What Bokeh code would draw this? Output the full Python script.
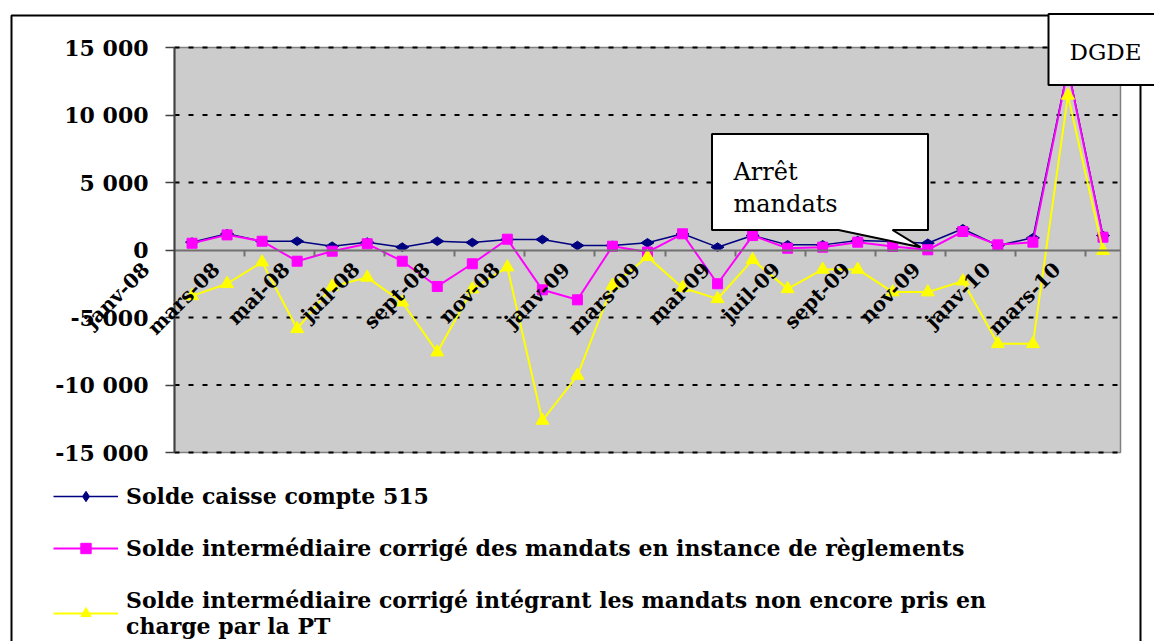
import math
from bokeh.plotting import figure
from bokeh.models import (Range1d, FixedTicker, Legend, LegendItem, LabelSet, Label,
                          BoxAnnotation, PolyAnnotation, ColumnDataSource)
from bokeh.core.properties import value
from bokeh.embed import file_html
from bokeh.resources import INLINE

# ---------------- data ----------------
months = ["janv-08", "févr-08", "mars-08", "avr-08", "mai-08", "juin-08", "juil-08",
          "août-08", "sept-08", "oct-08", "nov-08", "déc-08", "janv-09", "févr-09",
          "mars-09", "avr-09", "mai-09", "juin-09", "juil-09", "août-09", "sept-09",
          "oct-09", "nov-09", "déc-09", "janv-10", "févr-10", "mars-10"]

solde_caisse = [580, 1200, 650, 650, 280, 580, 210, 650, 555, 780, 780, 330, 330, 530,
                1200, 210, 1070, 380, 380, 700, 630, 500, 1570, 330, 900, 13500, 1070]

solde_corrige = [500, 1120, 650, -830, -90, 460, -830, -2700, -1020, 800, -2950, -3690,
                 280, -150, 1200, -2500, 1070, 130, 210, 580, 260, 15, 1370, 380, 580,
                 13400, 950]

solde_integrant = [-3400, -2500, -900, -5840, -2700, -2030, -3870, -7570, -2900, -1270,
                   -12630, -9300, -2630, -500, -2800, -3620, -730, -2880, -1440, -1440,
                   -3120, -3120, -2310, -6950, -6950, 11450, -50]

y_ticks = [-15000, -10000, -5000, 0, 5000, 10000, 15000]

legend_labels = ["Solde caisse compte 515",
                 "Solde intermédiaire corrigé des mandats en instance de règlements",
                 "Solde intermédiaire corrigé intégrant les mandats non encore pris en\ncharge par la PT"]

callout_text = ["Arrêt", "mandats"]
corner_text = "DGDE"

# ---------------- layout (frame = whole canvas) ----------------
W, H = 1154, 641
n = len(months)
cat0, cat1 = -0.5, n - 0.5
val0, val1 = y_ticks[0], y_ticks[-1]
PL, PR, PT, PB = 174, 1120, 47, 452          # plot-area box in pixels
PXU = (PR - PL) / (cat1 - cat0)
PYU = (PB - PT) / (val1 - val0)


def dx(X):  # canvas pixel -> data x
    return cat0 + (X - PL) / PXU


def dy(Y):  # canvas pixel -> data y
    return val1 - (Y - PT) / PYU


p = figure(width=W, height=H, output_backend="svg", toolbar_location=None,
           x_range=Range1d(dx(0), dx(W)), y_range=Range1d(dy(H), dy(0)),
           min_border=0, min_border_left=0, min_border_right=0,
           min_border_top=0, min_border_bottom=0,
           background_fill_color="white", border_fill_color="white",
           outline_line_color=None)
p.xgrid.visible = False
p.ygrid.visible = False

# plot-area background
p.add_layout(BoxAnnotation(left=cat0, right=cat1, bottom=val0, top=val1, level="image",
                           fill_color="#cccccc", fill_alpha=1,
                           line_color="#808080", line_alpha=1, line_width=1.5))

# x axis crossing at zero
p.xaxis.fixed_location = 0
p.xaxis.bounds = (cat0, cat1)
p.xaxis.ticker = FixedTicker(ticks=[], minor_ticks=[i + 0.5 for i in range(1, n - 1, 2)])
p.xaxis.axis_line_color = "#707070"
p.xaxis.axis_line_width = 2
p.xaxis.major_tick_line_color = None
p.xaxis.minor_tick_in = 0
p.xaxis.minor_tick_out = 6
p.xaxis.minor_tick_line_color = "#707070"
p.xaxis.minor_tick_line_width = 2
p.xaxis.major_label_text_font_size = "0px"

# y axis on the left edge of the plot area
p.yaxis.fixed_location = cat0
p.yaxis.bounds = (val0, val1)
p.yaxis.ticker = FixedTicker(ticks=y_ticks)
p.yaxis.minor_tick_line_color = None
p.yaxis.major_tick_in = 0
p.yaxis.major_tick_out = 9
p.yaxis.major_tick_line_color = "#404040"
p.yaxis.major_tick_line_width = 1.5
p.yaxis.axis_line_color = "#404040"
p.yaxis.axis_line_width = 2
p.yaxis.major_label_standoff = 17
p.yaxis.major_label_overrides = {v: f"{v:,}".replace(",", " ") for v in y_ticks}
p.yaxis.major_label_text_font = "DejaVu Serif"
p.yaxis.major_label_text_font_style = "bold"
p.yaxis.major_label_text_font_size = "22px"
p.yaxis.major_label_text_color = "black"

# dashed horizontal grid lines inside the plot area
grid_vals = [v for v in y_ticks if v != 0]
gsrc = ColumnDataSource(dict(x0=[cat0] * len(grid_vals), x1=[cat1] * len(grid_vals),
                             y=grid_vals))
p.segment(x0="x0", y0="y", x1="x1", y1="y", source=gsrc, line_color="black",
          line_width=2, line_dash="5 9")

# ---------------- series ----------------
src = ColumnDataSource(dict(x=list(range(n)), caisse=solde_caisse,
                            corrige=solde_corrige, integrant=solde_integrant))

r1l = p.line("x", "caisse", source=src, line_color="#000080", line_width=1.5)
r1m = p.scatter("x", "caisse", source=src, marker="diamond", angle=math.pi / 2, size=13,
                fill_color="#000080", line_color="#000080")
r2l = p.line("x", "corrige", source=src, line_color="#FF00FF", line_width=2)
r2m = p.scatter("x", "corrige", source=src, marker="square", size=10,
                fill_color="#FF00FF", line_color="#FF00FF")
r3l = p.line("x", "integrant", source=src, line_color="#FFFF00", line_width=2)
r3m = p.scatter("x", "integrant", source=src, marker="triangle", size=13,
                fill_color="#FFFF00", line_color="#FFFF00")

# category labels (every second month), rotated like the original
lab_idx = list(range(0, n, 2))
lab_src = ColumnDataSource(dict(x=lab_idx, y=[0] * len(lab_idx),
                                text=[months[i] for i in lab_idx]))
p.add_layout(LabelSet(x="x", y="y", text="text", source=lab_src, angle=math.pi / 4,
                      x_offset=-46, y_offset=-16, text_align="right", text_baseline="middle",
                      text_font=value("DejaVu Serif"), text_font_style="bold",
                      text_font_size="20px", text_color="black"))

# ---------------- decorations ----------------
p.add_layout(BoxAnnotation(left=dx(11), right=dx(1140), top=dy(15), bottom=dy(780),
                           fill_color=None, fill_alpha=0, line_color="black",
                           line_alpha=1, line_width=2))

cx = [711.5, 927.5, 927.5, 892, 920, 838, 711.5]
cy = [133.5, 133.5, 229.5, 229.5, 246.7, 229.5, 229.5]
p.add_layout(PolyAnnotation(xs=[dx(v) for v in cx], ys=[dy(v) for v in cy],
                            fill_color="white", fill_alpha=1, line_color="black",
                            line_alpha=1, line_width=2))
p.add_layout(Label(x=dx(733), y=dy(171.7), text=callout_text[0], text_font="DejaVu Serif",
                   text_font_size="24px", text_baseline="alphabetic", text_color="black"))
p.add_layout(Label(x=dx(733), y=dy(203.5), text=callout_text[1], text_font="DejaVu Serif",
                   text_font_size="24px", text_baseline="alphabetic", text_color="black"))

p.add_layout(BoxAnnotation(left=dx(1048), right=dx(1180), top=dy(13.5), bottom=dy(84.5),
                           fill_color="white", fill_alpha=1, line_color="black",
                           line_alpha=1, line_width=2))
p.add_layout(Label(x=dx(1069), y=dy(51.7), text=corner_text, text_font="DejaVu Serif",
                   text_font_size="23px", text_baseline="alphabetic", text_color="black"))

# ---------------- legend ----------------
items = [LegendItem(label=legend_labels[0], renderers=[r1l, r1m]),
         LegendItem(label=legend_labels[1], renderers=[r2l, r2m]),
         LegendItem(label=legend_labels[2], renderers=[r3l, r3m])]
legend = Legend(items=items, location=(53, 2), orientation="vertical",
                padding=0, margin=0, spacing=26, glyph_width=65, glyph_height=26,
                label_height=26, label_standoff=8, label_text_font="DejaVu Serif",
                label_text_font_style="bold", label_text_font_size="22px",
                label_text_line_height=1.05,
                label_text_color="black", border_line_color=None, background_fill_alpha=0)
p.add_layout(legend)

open("out.html", "w").write(file_html(p, INLINE))
